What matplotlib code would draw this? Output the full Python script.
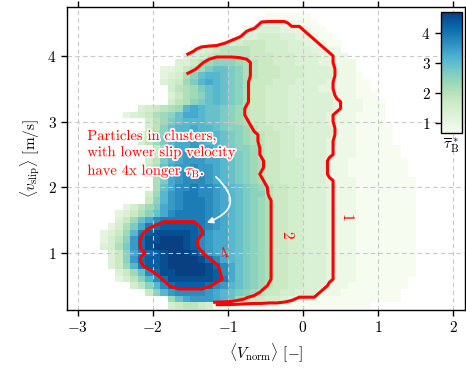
import re
import numpy as np
import matplotlib
matplotlib.use("Agg")
import matplotlib.pyplot as plt
import matplotlib.patheffects as pe

plt.rcParams["font.family"] = "serif"
plt.rcParams["font.serif"] = ["cmr10"]
plt.rcParams["mathtext.fontset"] = "cm"
plt.rcParams["axes.formatter.use_mathtext"] = True
plt.rcParams["font.size"] = 11

# mean residence time per (V_norm, v_slip) bin, 0.1 x 0.1 bins, top row first.
# run-length coded: letter k -> 0.5 + 0.2*k (a=0.5 ... v=4.7), '.' = empty bin,
# '-' = empty bin that still belongs to the smoothed field used for contours
tau_rows = [
    "12.11-6b16.",
    "12.10-4d2c2b15.",
    "12.8-cd3e3dc2b14.",
    "12.7-c2e3f2e2dc2b13.",
    "12.5-cef3g3f2e2dc2b12.",
    "12.-cefg4h2g3f3e2d2c12.",
    "12.defg5h3g3f3e2d2c11.",
    "11.2eghj3kjih2g3f3e2d3c10.",
    "9.2deghjl2mlkih3g3f4e3c10.",
    "9.defikm2nmlkih3g3f4e3cb9.",
    "9.efgjlnonmlki3g3f4ed3c2b8.",
    "10.fhijlmnmlki2g3f4e2d3c2b8.",
    "10.egijkmnmlki2g3f6e3c3b7.",
    "10.fhiklmnmlki2g3f6ed3c3b6.",
    "6.efghijnon2mlkjh2g3f6ed3c3b6.",
    "4.defgijkm2on2mlkjh2g3f5ed3c4b6.",
    "7.fhjlm3n2mlkji2g3f5ed3c4b6.",
    "7.fhkm2no2nml2kjh2g3f5e3c5b5.",
    "6.egikmn3o2nmlkjih2g2f5e3c5b5.",
    "6.fhjln2opo2nmlkjih2g2f4ed3c5b5.",
    "8.gjm2o2ponml2kjh2g2f4ed3c6b4.",
    "8.gkno3ponm2lkjh2g2f4ed3c6b4.",
    "7.fhlno3p2onmlkji2g3f3e3c8b3.",
    "7.gimo2pq2ponmlkji2g3f3e3c8b3.",
    "7.gjmop3qponmlkjh2g3f3e3c8b3.",
    "8.ilop3qponmlkji2g3f3ed3c8b2.",
    "8.imo2qr2qponmlkjh2g2f3ed3c8b2.",
    "7.fjnpq2r2qponml2kh2g2f3ed3c8b2.",
    "7.gknpq3rqponmlkji2g2f3ed3c8b2.",
    "4.dfhjlopq3rqponmlkji2g2f3ed3c8b2.",
    "3.degikmoq4rqponmlkji2g2f3ed3c8b2.",
    "3.egjmoq6rqponmlkji2g2f3ed3c8b2.",
    "2.dfilors5trqponmlkji2g2f3ed3c8b2.",
    ".degjnrt5utsp2onmlkji2g2f3ed3c8b2.",
    ".dfhkps2u3vutqp2onmlkji2g2f3ed3c8b2.",
    ".efilpsu4vutqp2onmlkji2g2f3ed3c8b2.",
    "2.egkorstu3vuspo2nmlkji2g2f3ed3c8b2.",
    "2.egkps2tu4vusqonmlkji2g2f3ed3c8b2.",
    "2.egjnr2tu5vusqomlkji2g2f3ed3c8b2.",
    "3.egjmqs2u4vutqomlkji2g2f3ed3c8b2.",
    "3.dfhknqs6utromlkji2g2f3ed3c7b3.",
    "5.fhknqs4tsqpnmlkjh2g2f3e3c8b3.",
    "7.gknp4qponmlkjh2g2f3e3c8b4.",
    "10.jmo3ponmjh2g2fed3c11b4.",
    "10.fg2hgf21b8.",
]

x_edges = np.linspace(-2.8, 1.7, 46)
y_edges = np.linspace(0.15, 4.65, 46)

levels = [1, 2, 4]
level_label_x = [0.57, -0.23, -1.05]
level_label_y = [1.53, 1.27, 0.98]
level_label_rot = [-90, -90, 25]


def decode(row):
    cells = []
    for n, ch in re.findall(r"(\d*)([a-z.\-])", row):
        cells += [ch] * (int(n) if n else 1)
    return cells


grid = np.array([decode(r) for r in tau_rows])[::-1]
tau = np.full(grid.shape, np.nan)
tau_c = np.full(grid.shape, np.nan)
for (i, j), ch in np.ndenumerate(grid):
    if ch.isalpha():
        tau[i, j] = tau_c[i, j] = 0.5 + 0.2 * (ord(ch) - ord("a"))
    elif ch == "-":
        tau_c[i, j] = 0.5

xc = 0.5 * (x_edges[1:] + x_edges[:-1])
yc = 0.5 * (y_edges[1:] + y_edges[:-1])
X, Y = np.meshgrid(xc, yc)
# sparse fringe bins are left out of the contour field
tau_c[(X < -1.62) & (tau_c < 2)] = np.nan
tau_c[(Y < 0.25) & (X < -1.2)] = np.nan

fig = plt.figure(figsize=(4.66, 3.73), dpi=100)
ax = fig.add_axes([0.1438, 0.1689, 0.854, 0.8123])

mesh = ax.pcolormesh(x_edges, y_edges, np.ma.masked_invalid(tau), cmap="GnBu",
                     vmin=0.67, vmax=4.7, edgecolors="none", antialiased=False,
                     zorder=1)
ax.contour(xc, yc, np.ma.masked_invalid(tau_c), levels=levels, colors="red",
           linewidths=2.2, zorder=3)
for lvl, lx, ly, rot in zip(levels, level_label_x, level_label_y, level_label_rot):
    ax.text(lx, ly, f"{lvl}", color="red", fontsize=11, rotation=rot,
            ha="center", va="center", zorder=4)

ax.set_xlim(-3.14, 2.155)
ax.set_ylim(0.13, 4.745)
ax.set_xticks([-3, -2, -1, 0, 1, 2])
ax.set_yticks([1, 2, 3, 4])
ax.grid(True, linestyle=(0, (4, 3)), color="#c8c8c8", linewidth=0.8)
ax.tick_params(direction="out", top=True, right=True, length=4, width=1)
for s in ax.spines.values():
    s.set_linewidth(1.0)
ax.set_xlabel(r"$\langle V_\mathrm{norm}\rangle$ [$-$]")
ax.set_ylabel(r"$\langle v_\mathrm{slip}\rangle$ [m/s]")

ax.text(-2.87, 2.5, "Particles in clusters,\nwith lower slip velocity\n"
        r"have 4x longer $\tau_\mathrm{B}$.", color="red", fontsize=10.5,
        ha="left", va="center", zorder=5,
        path_effects=[pe.withStroke(linewidth=2.5, foreground="white")])
ax.annotate("", xy=(-1.28, 1.46), xytext=(-1.16, 2.16), zorder=5,
            arrowprops=dict(arrowstyle="-|>", color="white", lw=1.2,
                            mutation_scale=9, shrinkA=0, shrinkB=0,
                            connectionstyle="arc3,rad=-0.8"))

cax = ax.inset_axes([0.94, 0.584, 0.053, 0.40])
cb = fig.colorbar(mesh, cax=cax, ticks=[1, 2, 3, 4])
cax.yaxis.set_ticks_position("left")
cax.tick_params(length=4, width=1)
cb.outline.set_linewidth(1.0)
cax.set_xlabel(r"$\overline{\tau}_\mathrm{B}^*$", labelpad=2)

fig.savefig("out.png", dpi=100)
